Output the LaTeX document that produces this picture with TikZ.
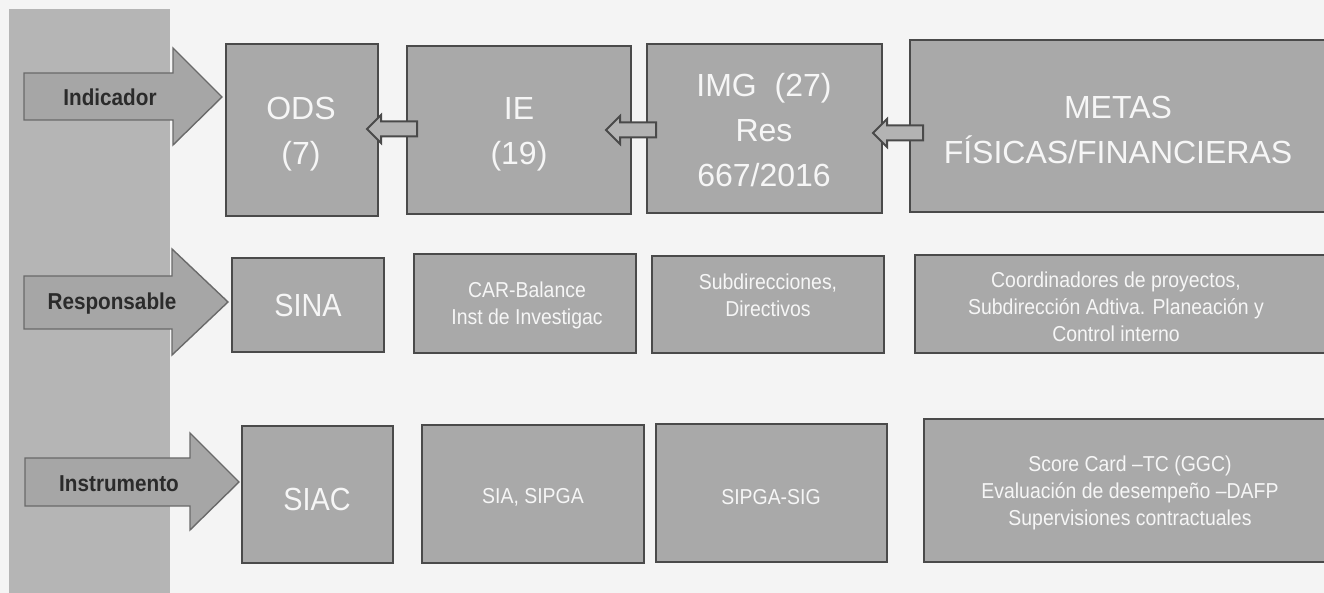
\documentclass[tikz,border=0pt]{standalone}
\usepackage{fontspec}
\setmainfont{Liberation Sans}
\newfontfamily\narrowfont[FakeStretch=0.9]{Liberation Sans}
\usetikzlibrary{fit}
\definecolor{bg}{HTML}{F4F4F4}
\definecolor{barc}{HTML}{B5B5B5}
\definecolor{boxc}{HTML}{A9A9A9}
\definecolor{boxline}{HTML}{4A4A4A}
\definecolor{arrc}{HTML}{A6A6A6}
\definecolor{arrline}{HTML}{6A6A6A}
\definecolor{labc}{HTML}{2B2B2B}
\definecolor{txtc}{HTML}{F6F6F6}
\begin{document}
\begin{tikzpicture}[x=0.5pt,y=-0.5pt,
 box/.style={draw=boxline, fill=boxc, line width=0.8pt, inner sep=0pt},
 bigtxt/.style={text=txtc, align=center, inner sep=0pt, font=\fontsize{16}{22.5}\selectfont},
 midtxt/.style={text=txtc, align=center, inner sep=0pt, font=\narrowfont\fontsize{16}{20}\selectfont},
 smalltxt/.style={text=txtc, align=center, inner sep=0pt, font=\narrowfont\fontsize{10.8}{13.5}\selectfont},
 labarrow/.style={draw=arrline, fill=arrc, line width=0.7pt, line join=miter},
 lab/.style={text=labc, inner sep=0pt, font=\narrowfont\bfseries\fontsize{11.5}{13}\selectfont},
 linkarrow/.style={draw=boxline, fill=arrc!85!white, line width=1pt, line join=miter}
]
\useasboundingbox (0,0) rectangle (1324,593);
\fill[bg] (0,0) rectangle (1324,593);
\fill[barc] (9,9) rectangle (170,593);

% label arrows
\draw[labarrow] (24,73) -- (173,73) -- (173,48) -- (222,97) -- (173,145) -- (173,120) -- (24,120) -- cycle;
\node[lab] (lind) at (110,97) {Indicador};
\draw[labarrow] (24,276) -- (172,276) -- (172,249) -- (228,302) -- (172,355) -- (172,329) -- (24,329) -- cycle;
\node[lab] (lres) at (112,304) {Responsable};
\draw[labarrow] (25,458) -- (190,458) -- (190,433) -- (239,482) -- (190,530) -- (190,506) -- (25,506) -- cycle;
\node[lab] (lins) at (119,484) {Instrumento};

% row 1
\node[box, fit={(226,44) (378,216)}] (ods) {};
\node[box, fit={(407,46) (631,214)}] (ie) {};
\node[box, fit={(647,44) (882,213)}] (img) {};
\node[box, fit={(910,40) (1330,212)}] (metas) {};
\node[bigtxt] (odst) at (301,134) {ODS\\(7)};
\node[bigtxt] (iet) at (519,134) {IE\\(19)};
\node[bigtxt] (imgt) at (764,130) {IMG\ \ (27)\\Res\\667/2016};
\node[bigtxt] (metast) at (1118,130) {METAS\\FÍSICAS/FINANCIERAS};

% link arrows (pointing left)
\coordinate (t1) at (367,129);
\coordinate (t2) at (606,130);
\coordinate (t3) at (873,133);
\foreach \t in {t1,t2,t3}{
 \draw[linkarrow] (\t) -- ++(14,-14) -- ++(0,6.5) -- ++(36,0) -- ++(0,15) -- ++(-36,0) -- ++(0,6.5) -- cycle;
}

% row 2
\node[box, fit={(232,258) (384,352)}] (sina) {};
\node[box, fit={(414,254) (636,353)}] (car) {};
\node[box, fit={(652,256) (884,353)}] (sub) {};
\node[box, fit={(915,255) (1330,353)}] (coord) {};
\node[midtxt] (sinat) at (308,305) {SINA};
\node[smalltxt] (cart) at (527,305) {CAR-Balance\\Inst de Investigac};
\node[smalltxt] (subt) at (768,295) {Subdirecciones,\\Directivos};
\node[smalltxt] (coordt) at (1116,307) {Coordinadores de proyectos,\\Subdirección Adtiva. Planeación y\\Control interno};

% row 3
\node[box, fit={(242,426) (393,563)}] (siac) {};
\node[box, fit={(422,425) (644,563)}] (sia) {};
\node[box, fit={(656,424) (887,562)}] (sig) {};
\node[box, fit={(924,419) (1330,562)}] (score) {};
\node[midtxt] (siact) at (317,499) {SIAC};
\node[smalltxt] (siat) at (533,497) {SIA, SIPGA};
\node[smalltxt] (sigt) at (771,497) {SIPGA-SIG};
\node[smalltxt] (scoret) at (1130,493) {Score Card –TC (GGC)\\Evaluación de desempeño –DAFP\\Supervisiones contractuales};
\end{tikzpicture}
\end{document}
